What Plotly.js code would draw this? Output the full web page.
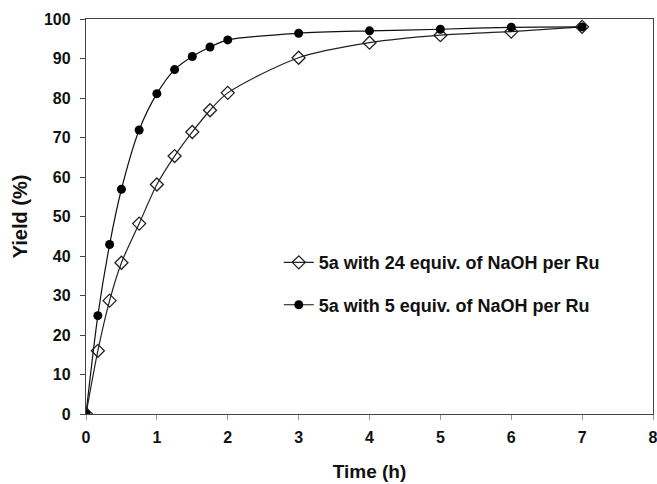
<!DOCTYPE html>
<html><head><meta charset="utf-8">
<script src="https://cdn.plot.ly/plotly-3.0.1.min.js"></script>
<style>html,body{margin:0;padding:0;background:#fff}</style>
</head><body><div id="chart" style="width:657px;height:484px"></div>
<script>
const timeA = [0, 0.167, 0.333, 0.5, 0.75, 1, 1.25, 1.5, 1.75, 2, 3, 4, 5, 6, 7];
const yieldA = [0, 16, 28.7, 38.3, 48.2, 58.1, 65.3, 71.4, 76.9, 81.3, 90.2, 94, 95.9, 96.8, 98];
const timeB = [0, 0.167, 0.333, 0.5, 0.75, 1, 1.25, 1.5, 1.75, 2, 3, 4, 5, 6, 7];
const yieldB = [0, 24.9, 42.9, 56.9, 71.9, 81.1, 87.2, 90.5, 92.9, 94.7, 96.4, 97, 97.4, 97.9, 98];
const nameA = '5a with 24 equiv. of NaOH per Ru';
const nameB = '5a with 5 equiv. of NaOH per Ru';
const xTicks = [0,1,2,3,4,5,6,7,8];
const yTicks = [0,10,20,30,40,50,60,70,80,90,100];

const fnt = 'Liberation Sans, Arial, sans-serif';
const traces = [
  {x: timeA, y: yieldA, name: nameA, legendgroup: 'a', type: 'scatter', mode: 'lines+markers',
   line: {color: '#222', width: 1.2, shape: 'spline', smoothing: 0.8},
   marker: {symbol: 'diamond-open', size: 10, color: '#222', line: {width: 1.3, color: '#222'}}},
  {x: timeB, y: yieldB, name: nameB, legendgroup: 'b', type: 'scatter', mode: 'lines+markers',
   line: {color: '#111', width: 1.2, shape: 'spline', smoothing: 0.8},
   marker: {symbol: 'circle', size: 9, color: '#000'}}
];
const layout = {
  width: 657, height: 484,
  margin: {l: 86, r: 4, t: 19, b: 70},
  paper_bgcolor: '#fff', plot_bgcolor: '#fff',
  font: {family: fnt, color: '#111', size: 13},
  showlegend: true,
  legend: {x: 0.34, y: 0.43, xanchor: 'left', yanchor: 'top', bgcolor: 'rgba(0,0,0,0)',
           font: {family: fnt, size: 18, weight: 'bold', color: '#111'}, tracegroupgap: 16, itemwidth: 30},
  xaxis: {range: [0, 8], tickvals: xTicks, ticktext: xTicks.map(String), showgrid: false, zeroline: false,
          showline: true, mirror: true, linecolor: '#444', linewidth: 1.2,
          ticks: 'outside', ticklen: 5, tickcolor: '#999', tickfont: {family: fnt, size: 16, weight: 'bold'},
          ticklabelstandoff: 4, ticklabeloverflow: 'allow',
          title: {text: 'Time (h)', font: {family: fnt, size: 19, weight: 'bold'}, standoff: 19}},
  yaxis: {range: [0, 100], tickvals: yTicks, ticktext: yTicks.map(String), showgrid: false, zeroline: false,
          showline: true, mirror: true, linecolor: '#444', linewidth: 1.2,
          ticks: 'outside', ticklen: 5, tickcolor: '#444', tickfont: {family: fnt, size: 16, weight: 'bold'},
          ticklabelstandoff: 6,
          title: {text: 'Yield (%)', font: {family: fnt, size: 20, weight: 'bold'}, standoff: 10}}
};
Plotly.newPlot('chart', traces, layout, {displayModeBar: false, staticPlot: true});
</script></body></html>
